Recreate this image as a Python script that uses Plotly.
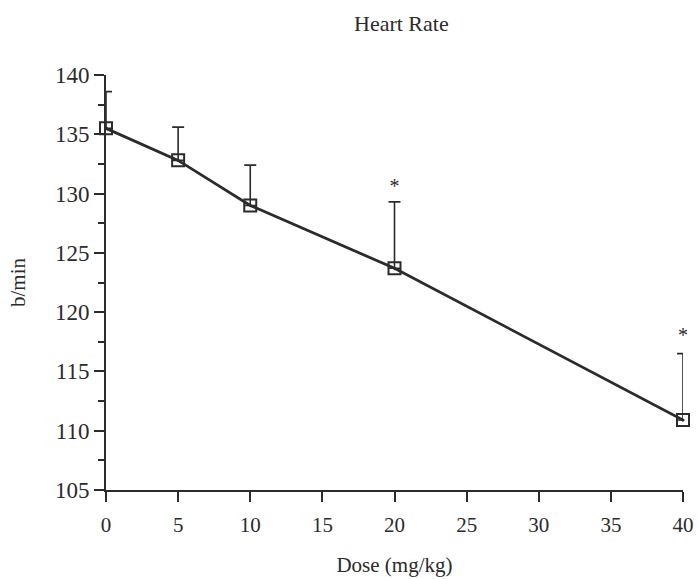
import plotly.graph_objects as go

dose = [0, 5, 10, 20, 40]
heart_rate = [135.5, 132.8, 129.0, 123.7, 110.9]
err_plus = [3.1, 2.8, 3.4, 5.6, 5.6]
star_dose = [20, 40]
star_y = [130.5, 117.9]
x_ticks = [0, 5, 10, 15, 20, 25, 30, 35, 40]
y_ticks = [105, 110, 115, 120, 125, 130, 135, 140]

ink = "#2b2b2b"
font = "Liberation Serif, Times New Roman, serif"

fig = go.Figure()
fig.add_trace(go.Scatter(
    x=dose, y=heart_rate, mode="lines+markers",
    line=dict(color=ink, width=2.8),
    marker=dict(symbol="square-open-dot", size=12, color=ink, line=dict(width=2, color=ink)),
    error_y=dict(type="data", symmetric=False, array=err_plus, arrayminus=[0]*len(dose),
                 color=ink, thickness=1.6, width=6),
    cliponaxis=False, showlegend=False, hoverinfo="skip",
))
fig.add_trace(go.Scatter(
    x=star_dose, y=star_y, mode="text", text=["*"]*len(star_dose),
    textfont=dict(family=font, size=20, color=ink),
    cliponaxis=False, showlegend=False, hoverinfo="skip",
))

fig.update_layout(
    width=698, height=579,
    margin=dict(l=106, r=15, t=75, b=89, autoexpand=False),
    paper_bgcolor="white", plot_bgcolor="white",
    font=dict(family=font, color=ink),
    title=dict(text="Heart Rate", x=0.575, xanchor="center", y=0.96, yanchor="middle",
               font=dict(family=font, size=22, color=ink)),
)
fig.update_xaxes(
    range=[0, 40], tickvals=x_ticks, ticktext=[str(v) for v in x_ticks],
    showgrid=False, zeroline=False, showline=True, linecolor=ink, linewidth=2,
    ticks="outside", ticklen=10, tickwidth=2, tickcolor=ink, automargin=False,
    ticklabelstandoff=5,
    tickfont=dict(family=font, size=21, color=ink),
    title=dict(text="Dose (mg/kg)", font=dict(family=font, size=21, color=ink), standoff=21),
)
fig.update_yaxes(
    range=[105, 140], tickvals=y_ticks, ticktext=[str(v) for v in y_ticks],
    showgrid=False, zeroline=False, showline=True, linecolor=ink, linewidth=2,
    ticks="outside", ticklen=10, tickwidth=2, tickcolor=ink, automargin=False,
    tickfont=dict(family=font, size=23, color=ink),
    minor=dict(dtick=2.5, ticks="outside", ticklen=6, tickwidth=1.5, tickcolor=ink, showgrid=False),
    title=dict(text="b/min", font=dict(family=font, size=21, color=ink), standoff=24),
)

fig.write_html("out.html", config={"displayModeBar": False},
               post_script="document.body.style.margin='0';")
